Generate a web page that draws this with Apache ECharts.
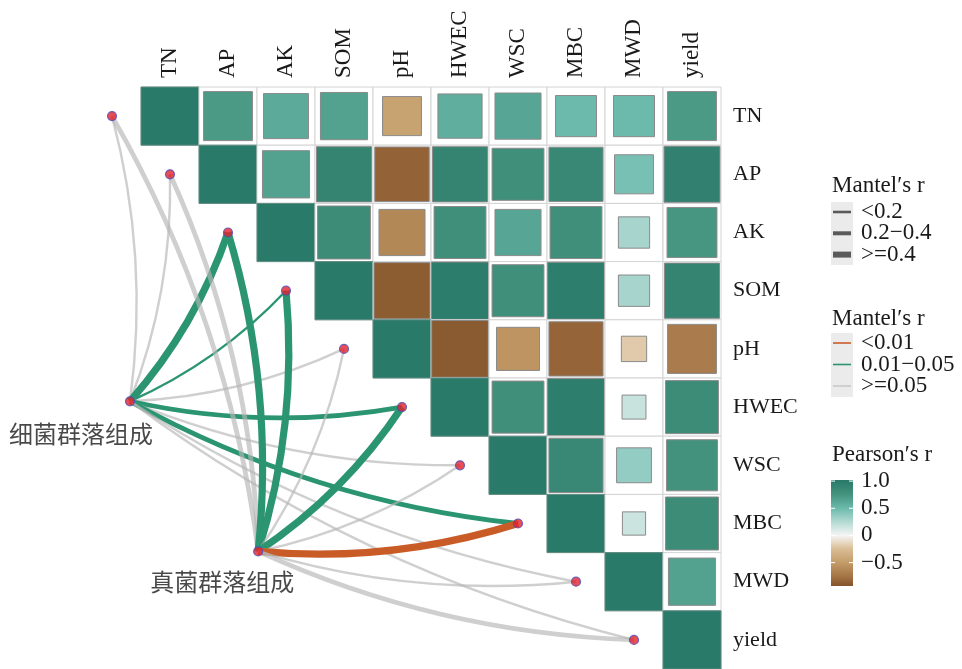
<!DOCTYPE html>
<html>
<head>
<meta charset="utf-8">
<script src="https://cdn.jsdelivr.net/npm/echarts@6/dist/echarts.min.js"></script>
<style>
html, body { margin: 0; padding: 0; background: #ffffff; }
#chart { width: 962px; height: 669px; }
</style>
</head>
<body>
<div id="chart"></div>
<script>
// Soil / yield variables (columns left→right, rows top→bottom)
const variables = ['TN', 'AP', 'AK', 'SOM', 'pH', 'HWEC', 'WSC', 'MBC', 'MWD', 'yield'];

// Pearson's r, upper triangle: each row holds r with the variables to its right
const rTN   = [0.71, 0.60, 0.66, -0.45, 0.58, 0.63, 0.50, 0.50, 0.71];
const rAP   = [0.66, 0.90, -0.88, 0.90, 0.80, 0.87, 0.45, 0.93];
const rAK   = [0.83, -0.63, 0.80, 0.63, 0.80, 0.29, 0.74];
const rSOM  = [-0.93, 0.97, 0.80, 0.96, 0.29, 0.90];
const rPH   = [-0.95, -0.55, -0.87, -0.19, -0.71];
const rHWEC = [0.80, 0.96, 0.17, 0.83];
const rWSC  = [0.87, 0.36, 0.77];
const rMBC  = [0.16, 0.83];
const rMWD  = [0.66];
const rYield = [];
const upperRows = [rTN, rAP, rAK, rSOM, rPH, rHWEC, rWSC, rMBC, rMWD, rYield];

// Mantel test of each community against each variable (same order as variables)
const communities = ['细菌群落组成', '真菌群落组成'];
const mantelR_bacteria = [0.12, 0.10, 0.45, 0.15, 0.08, 0.32, 0.14, 0.30, 0.10, 0.12];
const mantelP_bacteria = [0.30, 0.40, 0.02, 0.04, 0.50, 0.02, 0.20, 0.03, 0.30, 0.20];
const mantelR_fungi    = [0.25, 0.22, 0.50, 0.45, 0.10, 0.48, 0.12, 0.50, 0.10, 0.25];
const mantelP_fungi    = [0.10, 0.15, 0.02, 0.03, 0.30, 0.02, 0.40, 0.005, 0.50, 0.10];

// Legend texts
const mantelRLabels = ['<0.2', '0.2\u22120.4', '>=0.4'];
const mantelPLabels = ['<0.01', '0.01\u22120.05', '>=0.05'];
const pearsonTicks = [1.0, 0.5, 0, -0.5];
const pearsonTickLabels = ['1.0', '0.5', '0', '\u22120.5'];

// Diverging colour scale for Pearson's r (values -1 .. 1 evenly spaced)
const scaleValues = [-1, -0.75, -0.5, -0.25, 0, 0.25, 0.5, 0.75, 1];
const scaleColors = ['#83532A', '#A57546', '#C39C69', '#D9BD94', '#F5F5F5',
                     '#B3DAD3', '#6BBAAC', '#45947F', '#2A7A6A'];

// ---- styling helpers ----
const FONT = '"Liberation Serif", "Times New Roman", serif';
const CJK_FONT = '"Liberation Serif", "Noto Sans CJK SC", serif';
const TEXT = '#1a1a1a';
const widthClasses = [2.4, 4.8, 7.2];
const pColors = ['#C95B27', '#2B9572', '#B5B5B5'];
function widthIndex(r) { return r < 0.2 ? 0 : (r < 0.4 ? 1 : 2); }
function pIndex(p) { return p < 0.01 ? 0 : (p < 0.05 ? 1 : 2); }

// ---- heatmap cells: [col, row, r] ----
const cells = [];
variables.forEach((v, i) => {
  cells.push([i, i, 1]);
  upperRows[i].forEach((r, k) => cells.push([i + 1 + k, i, r]));
});

// anchor positions of the two community nodes (in cell units of the layout grid)
const nodePos = [[-0.69, 4.90], [1.52, 7.48]];
// each variable's link end sits just left of its diagonal tile
const envPoints = variables.map((v, i) => [i - 1, i]);

const mantelSets = [
  { r: mantelR_bacteria, p: mantelP_bacteria },
  { r: mantelR_fungi, p: mantelP_fungi }
];
const linkData = [];
mantelSets.forEach((set, k) => {
  variables.forEach((v, i) => {
    const pi = pIndex(set.p[i]);
    linkData.push({
      coords: [nodePos[k], envPoints[i]],
      lineStyle: {
        width: widthClasses[widthIndex(set.r[i])],
        color: pColors[pi],
        opacity: pi === 2 ? 0.65 : 1,
        curveness: -0.1
      }
    });
  });
});

const pointStyle = { color: '#E3202A', borderColor: '#4B4BB8', borderWidth: 1.2 };

// ---- legend graphics ----
const graphics = [];
const LX = 831, TX = 861, LFONT = '23px ' + FONT;
function legendText(text, x, y) {
  graphics.push({ type: 'text', x: x, y: y,
    style: { text: text, font: LFONT, fill: TEXT, verticalAlign: 'middle', align: 'left' } });
}
// Mantel's r (line width)
legendText('Mantel\u2032s r', LX + 1, 186);
graphics.push({ type: 'rect', shape: { x: LX, y: 202, width: 22, height: 63 }, style: { fill: '#EBEBEB' } });
mantelRLabels.forEach((t, i) => {
  const y = 212 + i * 21.3;
  graphics.push({ type: 'line', shape: { x1: LX + 2, y1: y, x2: LX + 20, y2: y },
    style: { stroke: '#5A5A5A', lineWidth: [2.6, 4, 6][i] } });
  legendText(t, TX, y);
});
// Mantel's p (line colour)
legendText('Mantel\u2032s r', LX + 1, 319);
graphics.push({ type: 'rect', shape: { x: LX, y: 333, width: 22, height: 64 }, style: { fill: '#EBEBEB' } });
mantelPLabels.forEach((t, i) => {
  const y = 343 + i * 21.5;
  graphics.push({ type: 'line', shape: { x1: LX + 2, y1: y, x2: LX + 20, y2: y },
    style: { stroke: pColors[i], lineWidth: 1.6, opacity: i === 2 ? 0.65 : 1 } });
  legendText(t, TX, y);
});
// Pearson's r colour bar
legendText('Pearson\u2032s r', LX + 1, 455);
const barTop = 480, barH = 106, barMax = 1.02, barMin = -0.93;
const barStops = [];
for (let k = scaleValues.length - 1; k >= 0; k--) {
  const off = (barMax - scaleValues[k]) / (barMax - barMin);
  barStops.push({ offset: Math.max(0, Math.min(off, 1)), color: scaleColors[k] });
}
graphics.push({ type: 'rect', shape: { x: LX, y: barTop, width: 22, height: barH },
  style: { fill: { type: 'linear', x: 0, y: 0, x2: 0, y2: 1, colorStops: barStops } } });
pearsonTicks.forEach((v, i) => {
  const y = barTop + (barMax - v) / (barMax - barMin) * barH;
  graphics.push({ type: 'line', shape: { x1: LX, y1: y, x2: LX + 4, y2: y }, style: { stroke: '#ffffff', lineWidth: 1 } });
  graphics.push({ type: 'line', shape: { x1: LX + 18, y1: y, x2: LX + 22, y2: y }, style: { stroke: '#ffffff', lineWidth: 1 } });
  legendText(pearsonTickLabels[i], TX, y);
});

const chart = echarts.init(document.getElementById('chart'), null, { renderer: 'canvas' });
chart.setOption({
  backgroundColor: '#ffffff',
  animation: false,
  grid: [
    // heatmap grid (category axes carry the variable names)
    { left: 141, top: 87, width: 580, height: 583 },
    // wide layout grid shared by links and points
    { left: 25, top: 87, width: 696, height: 583 }
  ],
  xAxis: [
    { gridIndex: 0, type: 'category', data: variables, position: 'top',
      axisLine: { show: false }, axisTick: { show: false }, splitLine: { show: false },
      axisLabel: { rotate: -90, margin: 9, fontSize: 23, fontFamily: FONT, color: TEXT } },
    { gridIndex: 1, type: 'value', min: -2.5, max: 9.5, show: false }
  ],
  yAxis: [
    { gridIndex: 0, type: 'category', data: variables, inverse: true, position: 'right',
      axisLine: { show: false }, axisTick: { show: false }, splitLine: { show: false },
      axisLabel: { margin: 12, fontSize: 22, fontFamily: FONT, color: TEXT } },
    { gridIndex: 1, type: 'value', min: -0.5, max: 9.5, inverse: true, show: false }
  ],
  visualMap: {
    show: false, type: 'continuous', seriesIndex: 0, dimension: 2,
    min: -1, max: 1, inRange: { color: scaleColors }
  },
  graphic: graphics,
  series: [
    {
      type: 'custom', xAxisIndex: 0, yAxisIndex: 0, z: 2,
      data: cells,
      renderItem: function (params, api) {
        const c = api.coord([api.value(0), api.value(1)]);
        const s = api.size([1, 1]);
        const r = api.value(2);
        const diag = api.value(0) === api.value(1);
        const f = Math.sqrt(Math.abs(r));
        const w = s[0], h = s[1];
        return {
          type: 'group',
          children: [
            { type: 'rect', shape: { x: c[0] - w / 2, y: c[1] - h / 2, width: w, height: h },
              style: { fill: '#ffffff', stroke: '#D4D4D4', lineWidth: 1 } },
            { type: 'rect', shape: { x: c[0] - w * f / 2, y: c[1] - h * f / 2, width: w * f, height: h * f },
              style: { fill: api.visual('color'), stroke: diag ? '#5f8b80' : '#8A8A8A', lineWidth: 1 } }
          ]
        };
      }
    },
    {
      type: 'lines', coordinateSystem: 'cartesian2d', xAxisIndex: 1, yAxisIndex: 1, z: 3,
      polyline: false, silent: true,
      data: linkData
    },
    {
      type: 'scatter', xAxisIndex: 1, yAxisIndex: 1, z: 4, symbolSize: 9,
      itemStyle: pointStyle,
      data: envPoints
    },
    {
      type: 'scatter', xAxisIndex: 1, yAxisIndex: 1, z: 5, symbolSize: 9,
      itemStyle: pointStyle,
      data: [
        { name: communities[0], value: nodePos[0],
          label: { show: true, position: 'inside', offset: [-49, 35], formatter: '{b}',
                   fontSize: 24, fontFamily: CJK_FONT, color: TEXT } },
        { name: communities[1], value: nodePos[1],
          label: { show: true, position: 'inside', offset: [-36, 33], formatter: '{b}',
                   fontSize: 24, fontFamily: CJK_FONT, color: TEXT } }
      ]
    }
  ]
});
</script>
</body>
</html>
